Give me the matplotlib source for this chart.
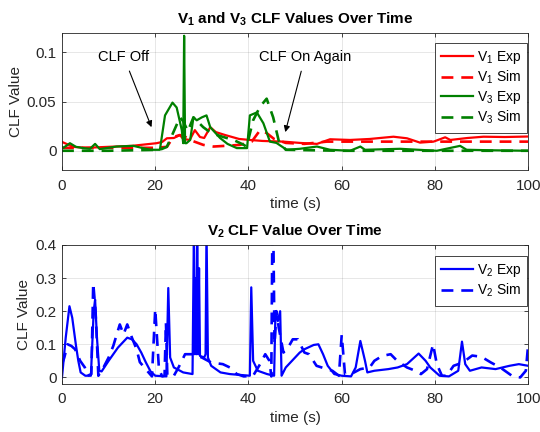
import matplotlib
matplotlib.use('Agg')
import matplotlib.pyplot as plt

plt.rcParams['font.family'] = ['Liberation Sans', 'DejaVu Sans']
plt.rcParams['mathtext.fontset'] = 'custom'
plt.rcParams['mathtext.rm'] = 'Liberation Sans'
plt.rcParams['mathtext.bf'] = 'Liberation Sans:bold'
plt.rcParams['mathtext.default'] = 'regular'

# ---- 上图数据：V1 / V3 ----
t_v1_exp = [0, 2.4, 5, 10, 15, 20.3, 21.5, 22.5, 24, 25.3, 26, 27.4, 28.5, 29.6, 30.5, 31.8,
            33, 35, 38, 40.3, 43, 47.5, 51, 54.7, 57.5, 61.8, 66, 71.1, 74, 76.8, 79.7,
            82.2, 83.3, 87, 90.4, 95, 100]
v_v1_exp = [0.009, 0.004, 0.003, 0.004, 0.005, 0.0077, 0.009, 0.0127, 0.013, 0.016, 0.012,
            0.011, 0.021, 0.014, 0.013, 0.024, 0.019, 0.016, 0.012, 0.011, 0.010, 0.0093,
            0.008, 0.007, 0.0117, 0.011, 0.012, 0.0143, 0.0127, 0.0083, 0.0093, 0.0137,
            0.011, 0.013, 0.0143, 0.014, 0.0145]

t_v1_sim = [0, 5, 10, 15, 20, 22.5, 23.9, 25.3, 26.5, 28, 30.3, 32.5, 35, 38.2, 40.7, 42.5,
            43.9, 45.5, 48, 52, 56.8, 60, 70, 80.4, 86.5, 100]
v_v1_sim = [0.003, 0.003, 0.003, 0.003, 0.003, 0.004, 0.014, 0.016, 0.014, 0.010, 0.006,
            0.0043, 0.005, 0.006, 0.0093, 0.021, 0.018, 0.012, 0.008, 0.007, 0.0093,
            0.0093, 0.0093, 0.0093, 0.0093, 0.0093]

t_v3_exp = [0, 0.3, 1.7, 3, 4.6, 6, 7.1, 8.1, 11.7, 15.3, 18.9, 21, 22.1, 23.7, 24.6, 25.7,
            26.0, 26.2, 26.4, 26.7, 27.5, 28.2, 28.9, 30, 31, 31.8, 33.9, 35.5, 37.5, 39.7,
            40.3, 41.8, 43.2, 44.6, 46, 48.2, 51, 54.7, 57.5, 61.8, 64, 65, 72.5, 80.4,
            85.4, 86.8, 92, 100]
v_v3_exp = [0.004, 0.003, 0.0077, 0.004, 0.0027, 0.002, 0.007, 0.0017, 0.0043, 0.005, 0.001,
            0.001, 0.036, 0.049, 0.044, 0.021, 0.0077, 0.117, 0.0077, 0.0077, 0.011, 0.034,
            0.031, 0.034, 0.036, 0.024, 0.013, 0.007, 0.0027, 0.0027, 0.036, 0.039, 0.028,
            0.0093, 0.008, 0.001, 0.002, 0.0043, 0.001, 0.0, 0.0043, 0.001, 0.002, 0.0,
            0.005, 0.001, 0.0005, 0.0]

t_v3_sim = [0, 10, 21, 22.5, 24, 25.3, 26, 27, 28.2, 30.3, 32, 34.6, 36.8, 39, 39.6, 41,
            42.5, 43.9, 45.3, 46.5, 48, 60, 80, 100]
v_v3_sim = [0.0, 0.0, 0.001, 0.004, 0.02, 0.034, 0.03, 0.02, 0.034, 0.024, 0.018, 0.014,
            0.011, 0.006, 0.004, 0.031, 0.045, 0.053, 0.034, 0.01, 0.001, 0.0, 0.0, 0.0]

# ---- 下图数据：V2 ----
t_v2_exp = [0, 0.8, 1.6, 2.2, 3.0, 3.5, 4.0, 5.0, 6.2, 6.8, 7.1, 7.5, 8.0, 8.5, 10, 12, 13,
            14, 15, 16, 17, 18, 19, 20, 22.4, 22.8, 23.2, 24, 26, 28, 28.3, 28.5, 28.7,
            28.85, 29.0, 29.2, 29.4, 29.6, 30.5, 30.8, 31.0, 31.3, 32, 34, 36, 40.3, 40.6,
            41.0, 42, 44, 45.5, 45.8, 46.3, 46.8, 47.1, 48, 50, 51, 52, 54, 55, 56, 57,
            58.4, 60, 62, 63, 64, 65, 65.5, 67, 70, 72, 74, 76.5, 78, 79, 81, 83, 85, 85.8,
            86.5, 87.5, 90, 93, 96, 98, 100]
v_v2_exp = [0.0, 0.12, 0.215, 0.18, 0.096, 0.05, 0.015, 0.005, 0.005, 0.2, 0.235, 0.12,
            0.02, 0.018, 0.05, 0.09, 0.105, 0.12, 0.115, 0.1, 0.075, 0.045, 0.018, 0.005,
            0.003, 0.27, 0.06, 0.03, 0.015, 0.01, 0.45, 0.07, 0.3, 0.07, 0.45, 0.07, 0.33,
            0.065, 0.06, 0.07, 0.45, 0.06, 0.035, 0.015, 0.01, 0.005, 0.272, 0.05, 0.02,
            0.01, 0.005, 0.2, 0.17, 0.2, 0.005, 0.03, 0.06, 0.075, 0.085, 0.098, 0.1, 0.07,
            0.035, 0.01, 0.005, 0.003, 0.03, 0.11, 0.05, 0.015, 0.02, 0.025, 0.03, 0.04,
            0.072, 0.05, 0.03, 0.005, 0.003, 0.02, 0.108, 0.04, 0.02, 0.03, 0.025, 0.035,
            0.04, 0.035]

t_v2_sim = [0, 0.5, 1.2, 2.0, 2.8, 3.9, 4.9, 5.5, 6.3, 6.7, 7.2, 7.8, 8.9, 10, 11, 12.4,
            13.2, 14, 15, 16, 16.7, 18.5, 19.3, 20.0, 20.8, 21.5, 22.0, 22.3, 22.6, 24, 25,
            26.4, 28, 30, 32, 34.5, 36, 37.5, 39, 41, 42.5, 43.6, 44.5, 44.9, 45.2, 45.6,
            46.0, 46.5, 47.5, 48.5, 49.5, 50.6, 52, 53, 54.6, 56.8, 58, 59.4, 60.0, 60.7,
            62, 64, 66, 67, 68.7, 70.5, 71.9, 74, 75.8, 77, 78.3, 79.6, 80.4, 81.5, 82.5,
            84, 86, 88, 90, 92, 94, 96.8, 98.3, 99.5, 100]
v_v2_sim = [0.04, 0.06, 0.1, 0.095, 0.085, 0.05, 0.03, 0.005, 0.01, 0.285, 0.2, 0.005, 0.03,
            0.06, 0.095, 0.16, 0.13, 0.16, 0.12, 0.085, 0.046, 0.016, 0.003, 0.206, 0.025,
            0.003, 0.005, 0.165, 0.005, 0.005, 0.03, 0.07, 0.07, 0.06, 0.045, 0.04, 0.03,
            0.01, 0.003, 0.005, 0.04, 0.07, 0.05, 0.003, 0.6, 0.1, 0.2, 0.15, 0.075, 0.09,
            0.115, 0.115, 0.075, 0.07, 0.035, 0.025, 0.02, 0.005, 0.128, 0.01, 0.01, 0.025,
            0.03, 0.05, 0.065, 0.07, 0.05, 0.03, 0.02, 0.01, 0.025, 0.1, 0.04, 0.005, 0.005,
            0.035, 0.045, 0.066, 0.062, 0.045, 0.03, 0.002, 0.0, 0.02, 0.1]

x_ticks = [0, 20, 40, 60, 80, 100]
top_yticks = [0, 0.05, 0.1]
top_yticklabels = ['0', '0.05', '0.1']
bot_yticks = [0, 0.1, 0.2, 0.3, 0.4]
bot_yticklabels = ['0', '0.1', '0.2', '0.3', '0.4']

RED = (1, 0, 0)
GREEN = (0, 0.5, 0)
BLUE = (0, 0, 1)
AX_COLOR = (0.15, 0.15, 0.15)
DASH = (0, (4.5, 3))
LW = 1.6


def style_axes(ax):
    ax.set_xlim(0, 100)
    ax.set_xticks(x_ticks)
    ax.grid(True, color=(0.15, 0.15, 0.15), alpha=0.13, linewidth=0.6)
    ax.set_axisbelow(True)
    for s in ax.spines.values():
        s.set_color(AX_COLOR)
        s.set_linewidth(0.6)
    ax.tick_params(direction='in', length=3, width=0.6, colors=AX_COLOR,
                   labelsize=11, top=True, right=True)
    ax.tick_params(axis='x', pad=6)
    ax.tick_params(axis='y', pad=4)
    ax.set_xlabel('time (s)', fontsize=11, color=AX_COLOR, labelpad=3)
    ax.set_ylabel('CLF Value', fontsize=11, color=AX_COLOR, labelpad=3)


def style_legend(leg):
    fr = leg.get_frame()
    fr.set_edgecolor(AX_COLOR)
    fr.set_linewidth(0.6)
    fr.set_alpha(1)


leg_kw = dict(loc='upper right', fontsize=10, frameon=True, fancybox=False,
              handlelength=2.3, borderaxespad=0, labelspacing=0.2,
              handletextpad=0.25, borderpad=0.45)

fig = plt.figure(figsize=(5.4, 4.32), dpi=100)
ax1 = fig.add_axes([0.1148, 0.6055, 0.8633, 0.3185])
ax2 = fig.add_axes([0.1148, 0.1111, 0.8633, 0.3218])

# 上图
ax1.plot(t_v1_exp, v_v1_exp, color=RED, lw=LW, label='V$_1$ Exp')
ax1.plot(t_v1_sim, v_v1_sim, color=RED, lw=LW + 0.3, ls=DASH, label='V$_1$ Sim')
ax1.plot(t_v3_exp, v_v3_exp, color=GREEN, lw=LW, label='V$_3$ Exp')
ax1.plot(t_v3_sim, v_v3_sim, color=GREEN, lw=LW + 0.3, ls=DASH, label='V$_3$ Sim')
ax1.set_ylim(-0.02, 0.12)
ax1.set_yticks(top_yticks)
ax1.set_yticklabels(top_yticklabels)
style_axes(ax1)
ax1.set_title(r'V$_\mathbf{1}$ and V$_\mathbf{3}$ CLF Values Over Time',
              fontsize=11, fontweight='bold', pad=7)

arrow = dict(arrowstyle='-|>', color='k', lw=0.8, mutation_scale=9,
             shrinkA=3, shrinkB=0)
ax1.annotate('CLF Off', xy=(19.2, 0.024), xytext=(13.3, 0.095), ha='center',
             va='center', fontsize=10.5, arrowprops=arrow)
ax1.annotate('CLF On Again', xy=(47.9, 0.019), xytext=(52.1, 0.095), ha='center',
             va='center', fontsize=10.5, arrowprops=arrow)

style_legend(ax1.legend(bbox_to_anchor=(0.998, 0.926), **leg_kw))

# 下图
ax2.plot(t_v2_exp, v_v2_exp, color=BLUE, lw=LW, label='V$_2$ Exp')
ax2.plot(t_v2_sim, v_v2_sim, color=BLUE, lw=LW + 0.3, ls=DASH, label='V$_2$ Sim')
ax2.set_ylim(-0.02, 0.4)
ax2.set_yticks(bot_yticks)
ax2.set_yticklabels(bot_yticklabels)
style_axes(ax2)
ax2.set_title(r'V$_\mathbf{2}$ CLF Value Over Time', fontsize=11, fontweight='bold', pad=7)

style_legend(ax2.legend(bbox_to_anchor=(0.998, 0.921), **leg_kw))

fig.savefig('out.png', dpi=100)
